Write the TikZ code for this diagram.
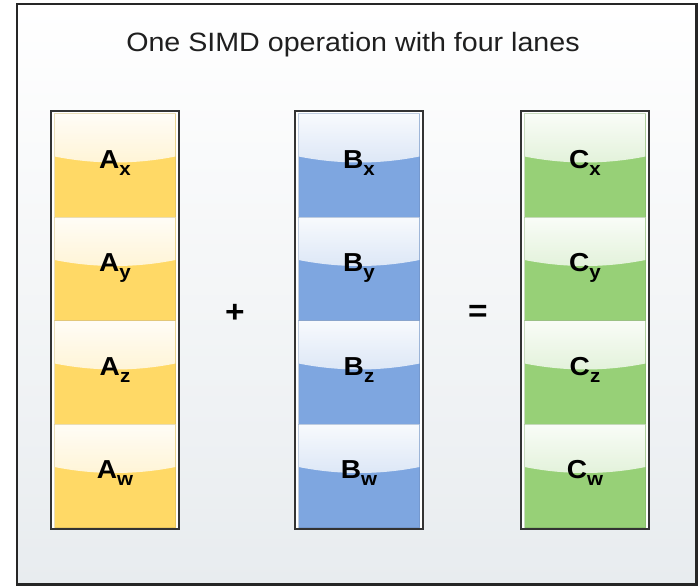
\documentclass[tikz,border=0pt]{standalone}
\usepackage{fontspec}
\setmainfont{Liberation Sans}[FakeStretch=1.08]
\usetikzlibrary{fadings,calc}
\definecolor{ycol}{HTML}{FFD966}
\definecolor{bcol}{HTML}{7EA6E0}
\definecolor{gcol}{HTML}{97D077}
\definecolor{bgbot}{HTML}{E8ECEF}
\definecolor{framecol}{HTML}{262626}
\definecolor{colframe}{HTML}{333333}
\tikzfading[name=glassfade, top color=transparent!5, bottom color=transparent!50]
\tikzset{
  frame/.style={draw=framecol, line width=2.2pt, top color=white, bottom color=bgbot, shading angle=0},
  column/.style={draw=colframe, line width=2pt, fill=white, minimum width=128pt, minimum height=418pt, inner sep=0pt},
  cellbox/.style={draw=#1!80!black, draw opacity=0.4, line width=0.8pt, fill=#1, minimum width=121pt, minimum height=103.5pt, inner sep=0pt,
    path picture={\fill[white, path fading=glassfade] (path picture bounding box.north west) -- ++(0,43)
      .. controls +(40.3,8) and +(-40.3,8) .. ++(121,0) -- (path picture bounding box.north east) -- cycle;}},
  lbl/.style={font=\fontsize{26}{26}\selectfont\bfseries, text=black, inner sep=0pt, anchor=base},
  op/.style={font=\fontsize{31}{31}\selectfont\bfseries, text=black, inner sep=0pt},
  title/.style={font=\fontsize{26.5}{26.5}\selectfont, text=black!88, inner sep=0pt}
}
\newcommand{\subl}[2]{#1\raisebox{-7pt}{\fontsize{19}{19}\selectfont #2}}
\begin{document}
\begin{tikzpicture}[x=1pt,y=-1pt]
\useasboundingbox (0,0) rectangle (699,587);
\path[frame] (17,4) rectangle (696.5,584.5);
\node[title] (title) at (353,45) {One SIMD operation with four lanes};
% columns
\node[column] (colA) at (115,320) {};
\node[column] (colB) at (359,320) {};
\node[column] (colC) at (585,320) {};
% cells
\foreach \c/\col/\L/\cx in {A/ycol/A/115, B/bcol/B/359, C/gcol/C/585}{
  \foreach \i/\s in {1/x,2/y,3/z,4/w}{
    \pgfmathsetmacro{\cy}{113.5+(\i-0.5)*103.5}
    \node[cellbox=\col] (\c\i) at (\cx,\cy) {};
    \node[lbl] (\c\i lbl) at ([yshift=-3pt]\c\i.center) {\subl{\L}{\s}};
  }
}
\node[op] (plus) at (235,313) {+};
\node[op] (eq) at (478,313) {=};
\end{tikzpicture}
\end{document}
